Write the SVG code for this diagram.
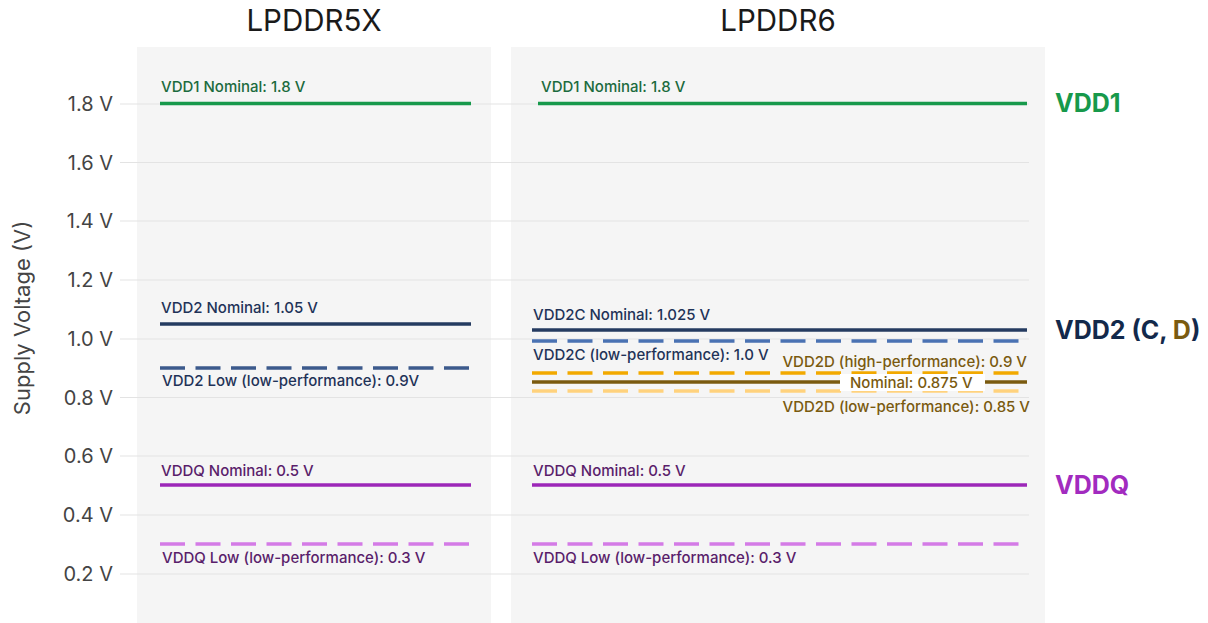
<svg xmlns="http://www.w3.org/2000/svg" width="1208" height="623" viewBox="0 0 1208 623">
<style>
text{font-family:Inter,"Noto Sans","Liberation Sans",sans-serif}
.hdr{font-size:29.5px;fill:#1a1a1a;text-anchor:middle}
.tick{font-size:20px;fill:#444;text-anchor:end}
.grid{stroke:#e3e3e3;stroke-width:1}
.lbl{font-size:15px;font-weight:500}
.g{fill:#1c6b3e}.n{fill:#1f3358}.p{fill:#5a1e6b}.b{fill:#7a5a0f}
.ln{stroke-width:3.5;fill:none}
.dash{stroke-dasharray:25 10.5}
</style>
<rect width="1208" height="623" fill="#ffffff"/>
<g id="panels">
<rect x="137" y="47" width="354" height="576" fill="#f5f5f5"/>
<rect x="511" y="47" width="534" height="576" fill="#f5f5f5"/>
</g>
<g id="headers">
<text class="hdr" x="314" y="31">LPDDR5X</text>
<text class="hdr" x="778" y="31">LPDDR6</text>
</g>
<g id="axis">
<text transform="translate(30,318) rotate(-90)" font-size="22" fill="#444" text-anchor="middle">Supply Voltage (V)</text>
<g class="grid">
<line x1="120" y1="104" x2="1029" y2="104"/>
<line x1="120" y1="162.5" x2="1029" y2="162.5"/>
<line x1="120" y1="221" x2="1029" y2="221"/>
<line x1="120" y1="280" x2="1029" y2="280"/>
<line x1="120" y1="339" x2="1029" y2="339"/>
<line x1="120" y1="397.5" x2="1029" y2="397.5"/>
<line x1="120" y1="456" x2="1029" y2="456"/>
<line x1="120" y1="515" x2="1029" y2="515"/>
<line x1="120" y1="574" x2="1029" y2="574"/>
</g>
<text class="tick" x="113" y="111">1.8 V</text>
<text class="tick" x="113" y="169.5">1.6 V</text>
<text class="tick" x="113" y="228">1.4 V</text>
<text class="tick" x="113" y="287">1.2 V</text>
<text class="tick" x="113" y="346">1.0 V</text>
<text class="tick" x="113" y="404.5">0.8 V</text>
<text class="tick" x="113" y="463">0.6 V</text>
<text class="tick" x="113" y="522">0.4 V</text>
<text class="tick" x="113" y="581">0.2 V</text>
</g>
<g id="lpddr5x-vdd1">
<line class="ln" x1="160" y1="103.5" x2="471" y2="103.5" stroke="#17994b"/>
<text class="lbl g" x="161" y="92">VDD1 Nominal: 1.8 V</text>
</g>
<g id="lpddr5x-vdd2">
<line class="ln" x1="160" y1="324" x2="471" y2="324" stroke="#253b60"/>
<text class="lbl n" x="161" y="313">VDD2 Nominal: 1.05 V</text>
<line class="ln dash" x1="160" y1="368" x2="471" y2="368" stroke="#3c5a8c"/>
<text class="lbl n" x="162" y="386">VDD2 Low (low-performance): 0.9V</text>
</g>
<g id="lpddr5x-vddq">
<line class="ln" x1="160" y1="485" x2="471" y2="485" stroke="#9c27b8"/>
<text class="lbl p" x="161" y="476">VDDQ Nominal: 0.5 V</text>
<line class="ln dash" x1="160" y1="544" x2="471" y2="544" stroke="#d47be6"/>
<text class="lbl p" x="162" y="563">VDDQ Low (low-performance): 0.3 V</text>
</g>
<g id="lpddr6-vdd1">
<line class="ln" x1="538" y1="103.5" x2="1027" y2="103.5" stroke="#17994b"/>
<text class="lbl g" x="541" y="92">VDD1 Nominal: 1.8 V</text>
</g>
<g id="lpddr6-vdd2c">
<line class="ln" x1="532" y1="330" x2="1027" y2="330" stroke="#253b60"/>
<text class="lbl n" x="533" y="320">VDD2C Nominal: 1.025 V</text>
<line class="ln dash" x1="532" y1="341" x2="1020" y2="341" stroke="#4a72b3"/>
<text class="lbl n" x="533" y="360">VDD2C (low-performance): 1.0 V</text>
</g>
<g id="lpddr6-vdd2d">
<line class="ln dash" x1="532" y1="373" x2="1022" y2="373" stroke="#f2a900"/>
<line class="ln" x1="532" y1="382" x2="1027" y2="382" stroke="#7a5a0f"/>
<line class="ln dash" x1="532" y1="391" x2="1022" y2="391" stroke="#ffd27d"/>
<text class="lbl b" x="1027" y="367" text-anchor="end">VDD2D (high-performance): 0.9 V</text>
<rect x="840" y="374" width="145" height="17" fill="#ffffff"/>
<text class="lbl b" x="850" y="388">Nominal: 0.875 V</text>
<text class="lbl b" x="1030" y="412" text-anchor="end">VDD2D (low-performance): 0.85 V</text>
</g>
<g id="lpddr6-vddq">
<line class="ln" x1="532" y1="485" x2="1027" y2="485" stroke="#9c27b8"/>
<text class="lbl p" x="533" y="476">VDDQ Nominal: 0.5 V</text>
<line class="ln dash" x1="532" y1="544" x2="1020" y2="544" stroke="#d47be6"/>
<text class="lbl p" x="533" y="563">VDDQ Low (low-performance): 0.3 V</text>
</g>
<g id="legend" font-weight="bold" font-size="25">
<text x="1055" y="112" fill="#17994b">VDD1</text>
<text x="1055" y="339" fill="#13294b">VDD2 (C, <tspan fill="#7a5a0f">D</tspan>)</text>
<text x="1055" y="494" fill="#a22bbf">VDDQ</text>
</g>
</svg>
